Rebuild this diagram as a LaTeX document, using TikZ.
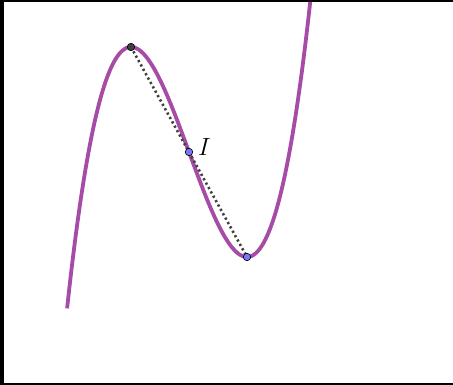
\documentclass[tikz,border=0pt]{standalone}
\usepackage{tikz}
\definecolor{curvepurple}{RGB}{166,76,166}
\definecolor{ptblue}{RGB}{120,120,245}
\definecolor{ptdark}{RGB}{64,64,64}
\begin{document}
\begin{tikzpicture}[x=1pt,y=-1pt,
  curvestyle/.style={curvepurple, line width=3.8pt},
  ptstyle/.style={circle, draw=black, line width=0.6pt, inner sep=0pt, minimum size=7.5pt},
  chordstyle/.style={ptdark, line width=2.6pt, dash pattern=on 2.2pt off 2.8pt}]
\useasboundingbox (0,0) rectangle (453,385);
\fill[white] (0,0) rectangle (453,385);
\begin{scope}
\clip (3.5,2) rectangle (453,383);
\draw[curvestyle, domain=-2.1017:2.155, samples=200, variable=\u]
  plot ({189+58*\u}, {152 - 52.5*(\u*\u*\u - 3*\u)});
\end{scope}
\coordinate (M) at (131,47);
\coordinate (I) at (189,152);
\coordinate (N) at (247,257);
\draw[chordstyle] (M) -- (N);
\node[ptstyle, fill=ptdark] (pM) at (M) {};
\node[ptstyle, fill=ptblue] (pI) at (I) {};
\node[ptstyle, fill=ptblue] (pN) at (N) {};
\node[font=\fontsize{26}{30}\selectfont, anchor=center] (lI) at (204.5,146.5) {$I$};
\fill[black] (0,0) rectangle (3.5,385);
\fill[black] (0,0) rectangle (453,2);
\fill[black] (0,383) rectangle (453,385);
\end{tikzpicture}
\end{document}
